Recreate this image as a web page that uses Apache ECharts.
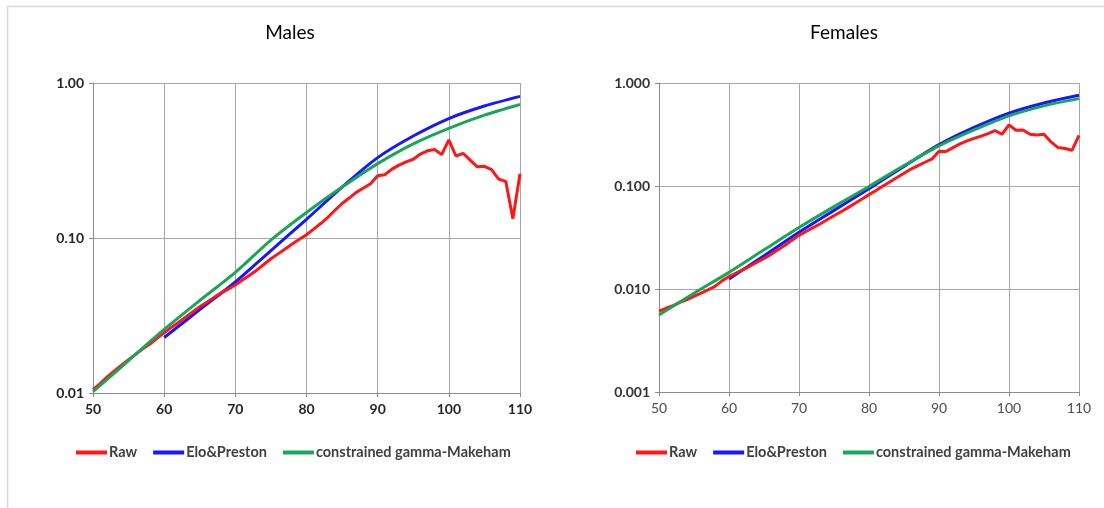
<!DOCTYPE html>
<html><head><meta charset="utf-8">
<script src="https://cdn.jsdelivr.net/npm/echarts@6/dist/echarts.min.js"></script>
<style>html,body{margin:0;padding:0;background:#fff}#c{width:1104px;height:508px}</style>
</head><body><div id="c"></div>
<script>
const titles = ['Males', 'Females'];
const seriesNames = ['Raw', 'Elo&Preston', 'constrained gamma-Makeham'];
const xTicks = [50, 60, 70, 80, 90, 100, 110];
const maleYTicks = ['0.01', '0.10', '1.00'];
const femaleYTicks = ['0.001', '0.010', '0.100', '1.000'];

const rawAges = [50,51,52,53,54,55,56,57,58,59,60,61,62,63,64,65,66,67,68,69,70,71,72,73,74,75,76,77,78,79,80,81,82,83,84,85,86,87,88,89,90,91,92,93,94,95,96,97,98,99,100,101,102,103,104,105,106,107,108,109,110];
const maleRaw = [0.0105,0.0115,0.0127,0.0139,0.0151,0.0164,0.0178,0.0193,0.0207,0.0225,0.0245,0.0265,0.0285,0.0308,0.0333,0.036,0.0385,0.0413,0.0443,0.0468,0.0498,0.0535,0.0575,0.062,0.0675,0.0735,0.079,0.085,0.0915,0.098,0.105,0.114,0.124,0.136,0.151,0.167,0.181,0.197,0.21,0.224,0.252,0.256,0.278,0.295,0.31,0.322,0.348,0.365,0.372,0.345,0.43,0.338,0.352,0.318,0.288,0.29,0.276,0.24,0.232,0.133,0.26];
const femaleRaw = [0.0061,0.0065,0.0069,0.0074,0.0079,0.0085,0.0091,0.0098,0.0106,0.012,0.0132,0.0143,0.0154,0.0167,0.0182,0.0198,0.0217,0.024,0.0266,0.0298,0.0332,0.0362,0.0394,0.0428,0.047,0.0515,0.0563,0.0617,0.0679,0.0748,0.0825,0.0905,0.1,0.11,0.121,0.133,0.146,0.158,0.17,0.183,0.218,0.216,0.236,0.256,0.274,0.29,0.305,0.322,0.345,0.318,0.392,0.348,0.35,0.318,0.312,0.318,0.268,0.236,0.231,0.222,0.31];

const eloAges = [60,65,70,75,80,85,90,95,100,105,110];
const maleElo = [0.0228,0.0345,0.052,0.083,0.132,0.213,0.33,0.455,0.59,0.71,0.82];
const femaleElo = [0.0125,0.021,0.0355,0.058,0.094,0.155,0.252,0.37,0.51,0.64,0.76];

const gmAges = [50,55,60,65,70,75,80,85,90,95,100,105,110];
const maleGM = [0.0102,0.0162,0.0257,0.0395,0.06,0.097,0.146,0.213,0.302,0.405,0.51,0.62,0.727];
const femaleGM = [0.0056,0.0091,0.0145,0.024,0.0395,0.063,0.099,0.158,0.245,0.35,0.48,0.6,0.705];

const colors = ['#ff1616', '#1717ff', '#1aa65a'];
const pairs = (xs, ys) => xs.map((x, i) => [x, ys[i]]);
const FONT = 'Lato, "DejaVu Sans", sans-serif';

const grids = [
  {left: 93, top: 83, width: 427, height: 310},
  {left: 659, top: 83, width: 420, height: 309}
];
const yTickSets = [maleYTicks, femaleYTicks];
const yMins = [0.01, 0.001];

const chart = echarts.init(document.getElementById('c'), null, {renderer: 'canvas'});
const xAxis = [], yAxis = [], series = [];
[0, 1].forEach(g => {
  xAxis.push({
    type: 'value', gridIndex: g, min: xTicks[0], max: xTicks[xTicks.length - 1], interval: 10,
    axisLine: {lineStyle: {color: '#8c8c8c', width: 1}},
    axisTick: {show: true, length: 4, lineStyle: {color: '#8c8c8c'}},
    axisLabel: {color: g === 0 ? '#262626' : '#4d4d4d', fontFamily: FONT, fontSize: 14, fontWeight: g === 0 ? 'bold' : 'normal', margin: 9},
    splitLine: {show: true, lineStyle: {color: '#a6a6a6', width: 1}}
  });
  const ticks = yTickSets[g];
  yAxis.push({
    type: 'log', logBase: 10, gridIndex: g, min: yMins[g], max: 1,
    axisLine: {show: true, lineStyle: {color: '#8c8c8c', width: 1}},
    axisTick: {show: true, length: 4, lineStyle: {color: '#8c8c8c'}},
    axisLabel: {color: g === 0 ? '#262626' : '#333333', fontFamily: FONT, fontSize: 14, fontWeight: 'bold', margin: 9,
      formatter: (v, i) => ticks[i] !== undefined ? ticks[i] : ''},
    splitLine: {show: true, lineStyle: {color: '#a6a6a6', width: 1}}
  });
  const raw = g === 0 ? maleRaw : femaleRaw;
  const elo = g === 0 ? maleElo : femaleElo;
  const gm = g === 0 ? maleGM : femaleGM;
  const common = {type: 'line', xAxisIndex: g, yAxisIndex: g, showSymbol: false, symbol: 'none'};
  series.push(Object.assign({}, common, {name: seriesNames[0], data: pairs(rawAges, raw), lineStyle: {color: colors[0], width: 3}, itemStyle: {color: colors[0]}, z: 4}));
  series.push(Object.assign({}, common, {name: seriesNames[1], data: pairs(eloAges, elo), smooth: 0.3, lineStyle: {color: colors[1], width: 3}, itemStyle: {color: colors[1]}, z: 3}));
  series.push(Object.assign({}, common, {name: seriesNames[2], data: pairs(gmAges, gm), smooth: 0.3, lineStyle: {color: colors[2], width: 3}, itemStyle: {color: colors[2]}, z: 5}));
});

const legendCommon = {
  data: seriesNames, icon: 'rect', itemWidth: 31, itemHeight: 4, itemGap: 16,
  textStyle: {fontFamily: FONT, fontSize: 14.5, fontWeight: 'bold', color: '#404040', padding: [0, 0, 0, -3]},
  selectedMode: false, padding: 0
};

chart.setOption({
  animation: false,
  backgroundColor: '#fff',
  title: [
    {text: titles[0], left: 285, top: 18, textAlign: 'center', textStyle: {fontFamily: FONT, fontSize: 19, fontWeight: 'normal', color: '#000'}},
    {text: titles[1], left: 839, top: 18, textAlign: 'center', textStyle: {fontFamily: FONT, fontSize: 19, fontWeight: 'normal', color: '#000'}}
  ],
  legend: [
    Object.assign({}, legendCommon, {left: 76, top: 445}),
    Object.assign({}, legendCommon, {left: 636, top: 445})
  ],
  grid: grids,
  xAxis: xAxis,
  yAxis: yAxis,
  series: series,
  graphic: [{
    type: 'rect', silent: true, z: -1,
    shape: {x: 7.5, y: 6.5, width: 1200, height: 600},
    style: {fill: 'none', stroke: '#d9d9d9', lineWidth: 1.5}
  }]
});
</script></body></html>
